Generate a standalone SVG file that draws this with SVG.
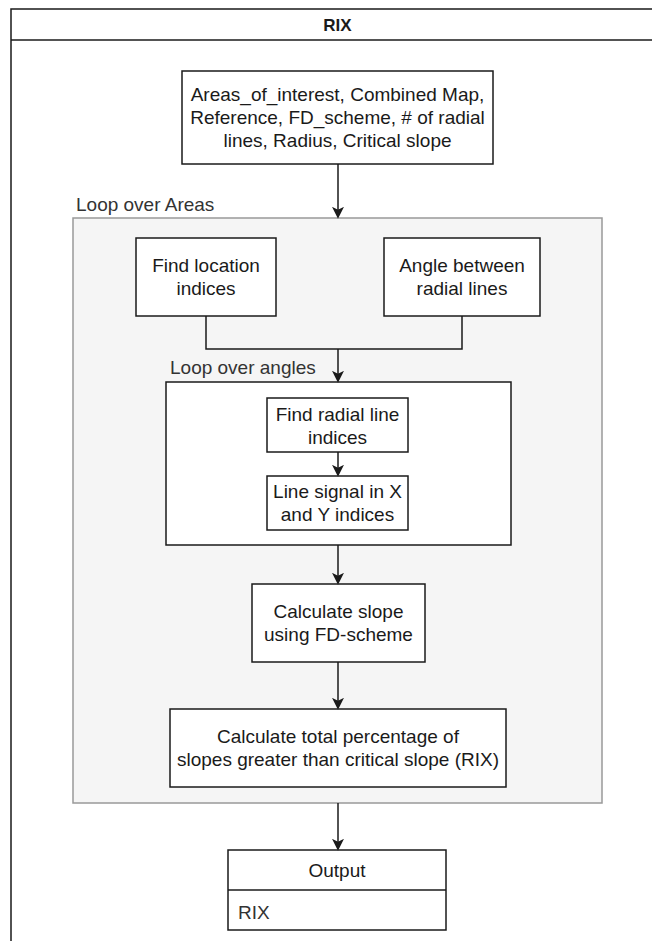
<svg xmlns="http://www.w3.org/2000/svg" width="652" height="941" viewBox="0 0 652 941">
  <style>
    .box { fill: #ffffff; stroke: #1a1a1a; stroke-width: 1.5; }
    .loop { fill: #f5f5f5; stroke: #999999; stroke-width: 1.5; }
    .frame { fill: #ffffff; stroke: #1a1a1a; stroke-width: 1.5; }
    .edge { fill: none; stroke: #1a1a1a; stroke-width: 1.5; }
    .t { font-family: "Liberation Sans", Arial, sans-serif; font-size: 19px; fill: #1a1a1a; text-anchor: middle; }
    .lbl { font-family: "Liberation Sans", Arial, sans-serif; font-size: 19px; fill: #333333; }
    .title { font-family: "Liberation Sans", Arial, sans-serif; font-size: 17px; font-weight: bold; fill: #1a1a1a; text-anchor: middle; }
  </style>
  <defs>
    <marker id="arrow" markerUnits="userSpaceOnUse" markerWidth="12" markerHeight="12" refX="6" refY="5" orient="auto" viewBox="0 0 10 10">
      <path d="M0,0 L10,5 L0,10 L2.5,5 Z" fill="#1a1a1a"/>
    </marker>
  </defs>

  <rect width="652" height="941" fill="#ffffff"/>

  <!-- swimlane frame with title bar -->
  <g id="frame">
    <rect class="frame" x="11" y="9" width="660" height="950"/>
    <line x1="11" y1="40" x2="671" y2="40" stroke="#1a1a1a" stroke-width="1.5"/>
    <text class="title" x="337.5" y="31">RIX</text>
  </g>

  <!-- outer loop container -->
  <g id="loop-areas">
    <rect class="loop" x="73" y="218" width="529" height="585"/>
    <text class="lbl" x="76" y="211">Loop over Areas</text>
  </g>

  <g id="inputs">
    <rect class="box" x="182" y="71" width="311" height="93"/>
    <text class="t" x="337.5" y="101">Areas_of_interest, Combined Map,</text>
    <text class="t" x="337.5" y="124">Reference, FD_scheme, # of radial</text>
    <text class="t" x="337.5" y="147">lines, Radius, Critical slope</text>
  </g>

  <g id="find-location">
    <rect class="box" x="136" y="238" width="140" height="78"/>
    <text class="t" x="206" y="272">Find location</text>
    <text class="t" x="206" y="295">indices</text>
  </g>

  <g id="angle-between">
    <rect class="box" x="384" y="238" width="156" height="78"/>
    <text class="t" x="462" y="272">Angle between</text>
    <text class="t" x="462" y="295">radial lines</text>
  </g>

  <!-- inner loop container -->
  <g id="loop-angles">
    <rect class="box" x="166" y="382" width="345" height="163"/>
    <text class="lbl" x="170" y="374">Loop over angles</text>
  </g>

  <g id="find-radial">
    <rect class="box" x="267" y="398" width="141" height="54"/>
    <text class="t" x="337.5" y="421">Find radial line</text>
    <text class="t" x="337.5" y="444">indices</text>
  </g>

  <g id="line-signal">
    <rect class="box" x="267" y="476" width="141" height="54"/>
    <text class="t" x="337.5" y="498">Line signal in X</text>
    <text class="t" x="337.5" y="521">and Y indices</text>
  </g>

  <g id="calc-slope">
    <rect class="box" x="252" y="584" width="173" height="78"/>
    <text class="t" x="338.5" y="618">Calculate slope</text>
    <text class="t" x="338.5" y="641">using FD-scheme</text>
  </g>

  <g id="calc-total">
    <rect class="box" x="170" y="709" width="336" height="78"/>
    <text class="t" x="338" y="743">Calculate total percentage of</text>
    <text class="t" x="338" y="766">slopes greater than critical slope (RIX)</text>
  </g>

  <g id="output">
    <rect class="box" x="228" y="850" width="218" height="80"/>
    <line x1="228" y1="890" x2="446" y2="890" stroke="#1a1a1a" stroke-width="1.5"/>
    <text class="t" x="337" y="877">Output</text>
    <text class="lbl" x="238" y="919" fill="#1a1a1a">RIX</text>
  </g>

  <g id="connectors">
    <path class="edge" d="M338,164 V214" marker-end="url(#arrow)"/>
    <path class="edge" d="M206,316 V349 H462 V316"/>
    <path class="edge" d="M338,349 V378" marker-end="url(#arrow)"/>
    <path class="edge" d="M338,452 V472" marker-end="url(#arrow)"/>
    <path class="edge" d="M338,545 V580" marker-end="url(#arrow)"/>
    <path class="edge" d="M338,662 V705" marker-end="url(#arrow)"/>
    <path class="edge" d="M338,803 V846" marker-end="url(#arrow)"/>
  </g>
</svg>
